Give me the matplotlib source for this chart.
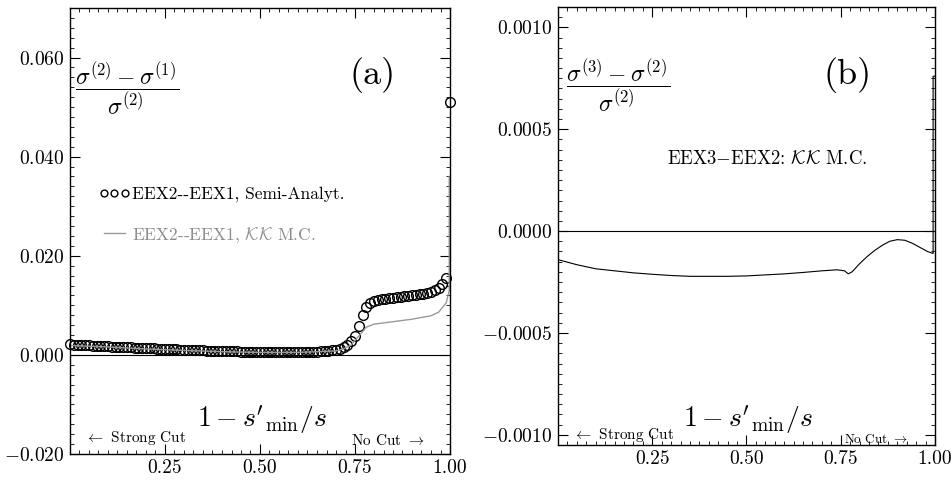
import numpy as np
import matplotlib
matplotlib.use('Agg')
import matplotlib.pyplot as plt
from matplotlib.ticker import AutoMinorLocator

plt.rcParams['font.family'] = 'serif'
plt.rcParams['font.serif'] = ['cmr10']
plt.rcParams['mathtext.fontset'] = 'cm'
plt.rcParams['axes.unicode_minus'] = False
plt.rcParams['axes.formatter.use_mathtext'] = True

# panel (a): semi-analytical EEX2-EEX1 (circles), x = 0.00 ... 1.00 step 0.01
semi_x = np.arange(101) / 100
semi_y = np.array([
    2.1, 2.05, 2.0, 1.95, 1.9, 1.9, 1.85, 1.8, 1.8, 1.75,
    1.7, 1.65, 1.65, 1.6, 1.55, 1.5, 1.5, 1.45, 1.4, 1.4,
    1.35, 1.3, 1.3, 1.25, 1.2, 1.2, 1.15, 1.1, 1.1, 1.05,
    1.0, 1.0, 0.95, 0.95, 0.9, 0.9, 0.85, 0.85, 0.8, 0.8,
    0.75, 0.75, 0.7, 0.7, 0.7, 0.65, 0.65, 0.65, 0.6, 0.6,
    0.6, 0.6, 0.55, 0.55, 0.55, 0.55, 0.55, 0.55, 0.55, 0.55,
    0.6, 0.6, 0.6, 0.6, 0.65, 0.65, 0.7, 0.75, 0.8, 0.9,
    1.0, 1.2, 1.5, 2.0, 2.8, 3.8, 5.8, 8.0, 9.6, 10.4,
    10.8, 11.0, 11.2, 11.3, 11.4, 11.5, 11.6, 11.7, 11.8, 11.9,
    12.0, 12.1, 12.2, 12.3, 12.5, 12.7, 13.0, 13.5, 14.3, 15.5,
    51.0]) * 1e-3

# panel (a): KK M.C. EEX2-EEX1 (gray line)
mc_x = [0.0, 0.1, 0.2, 0.3, 0.4, 0.5, 0.6, 0.7, 0.72, 0.74, 0.76, 0.78,
        0.8, 0.85, 0.9, 0.95, 0.97, 0.99, 0.998, 0.998]
mc_y = np.array([1.9, 1.6, 1.2, 0.9, 0.65, 0.5, 0.5, 0.8, 1.2, 2.0, 3.8, 5.6,
                 6.2, 6.7, 7.2, 7.9, 8.6, 10.5, 13.0, 36.0]) * 1e-3

# panel (b): KK M.C. EEX3-EEX2
b_x = [0.0, 0.05, 0.1, 0.15, 0.2, 0.25, 0.3, 0.35, 0.4, 0.45, 0.5, 0.55,
       0.6, 0.65, 0.7, 0.74, 0.76, 0.77, 0.78, 0.8, 0.82, 0.84, 0.86, 0.88,
       0.9, 0.92, 0.94, 0.96, 0.98, 0.995, 0.995, 1.0]
b_y = np.array([-1.4, -1.65, -1.85, -1.95, -2.05, -2.12, -2.18, -2.22, -2.22,
                -2.22, -2.2, -2.15, -2.1, -2.03, -1.95, -1.9, -1.95, -2.1, -2.0,
                -1.6, -1.25, -0.95, -0.7, -0.5, -0.42, -0.45, -0.6, -0.8, -1.0,
                -1.1, 7.6, 7.6]) * 1e-4

x_ticks = [0.25, 0.50, 0.75, 1.00]
x_labels = ['0.25', '0.50', '0.75', '1.00']
a_yticks = [-0.02, 0.0, 0.02, 0.04, 0.06]
a_ylabels = ['$-0.020$', '$0.000$', '$0.020$', '$0.040$', '$0.060$']
b_yticks = [-0.001, -0.0005, 0.0, 0.0005, 0.001]
b_ylabels = ['$-0.0010$', '$-0.0005$', '$0.0000$', '$0.0005$', '$0.0010$']


def style_axes(ax, yticks, ylabels):
    ax.set_xlim(0, 1)
    ax.set_xticks(x_ticks)
    ax.set_xticklabels(x_labels, fontsize=14)
    ax.set_yticks(yticks)
    ax.set_yticklabels(ylabels, fontsize=14)
    ax.xaxis.set_minor_locator(AutoMinorLocator(10))
    ax.yaxis.set_minor_locator(AutoMinorLocator(10))
    ax.tick_params(which='both', direction='in', top=True, right=True)
    ax.tick_params(which='major', length=7, width=0.8, pad=4)
    ax.tick_params(which='minor', length=3, width=0.6)
    for s in ax.spines.values():
        s.set_linewidth(1.0)
    ax.axhline(0, color='black', lw=0.8)


fig = plt.figure(figsize=(9.53, 4.82), dpi=100)

# ---- panel (a)
ax1 = fig.add_axes([70 / 953, 28 / 482, 380 / 953, 446 / 482])
ax1.plot(semi_x, semi_y, 'o', mfc='none', mec='black', ms=7, mew=1.0,
         clip_on=False, label='EEX2--EEX1, Semi-Analyt.')
ax1.plot(mc_x, mc_y, '-', color='0.6', lw=1.0, label=r'EEX2--EEX1, $\mathcal{KK}$ M.C.')
ax1.set_ylim(-0.02, 0.07)
style_axes(ax1, a_yticks, a_ylabels)
leg = ax1.legend(loc='upper left', bbox_to_anchor=(0.075, 0.6), frameon=False,
                 fontsize=12.5, numpoints=3, handlelength=1.8, handletextpad=0.15,
                 labelspacing=1.3, borderpad=0, borderaxespad=0, markerscale=0.7)
leg.get_texts()[1].set_color('0.55')

ax1.text(0.15, 0.82, r'$\dfrac{\sigma^{(2)}-\sigma^{(1)}}{\sigma^{(2)}}$',
         transform=ax1.transAxes, fontsize=17, ha='center', va='center')
ax1.text(0.795, 0.85, '(a)', transform=ax1.transAxes, fontsize=26,
         ha='center', va='center')
ax1.text(0.505, 0.075, r"$1-s'_{\rm min}/s$", transform=ax1.transAxes,
         fontsize=20, ha='center', va='center')
ax1.text(0.04, 0.036, r'$\leftarrow$ Strong Cut', transform=ax1.transAxes,
         fontsize=11, ha='left', va='center')
ax1.text(0.934, 0.031, r'No Cut $\rightarrow$', transform=ax1.transAxes,
         fontsize=11, ha='right', va='center')

# ---- panel (b)
ax2 = fig.add_axes([558 / 953, 37 / 482, 377 / 953, 438 / 482])
ax2.plot(b_x, b_y, '-', color='black', lw=0.8)
ax2.set_ylim(-0.00105, 0.0011)
style_axes(ax2, b_yticks, b_ylabels)

ax2.text(0.16, 0.82, r'$\dfrac{\sigma^{(3)}-\sigma^{(2)}}{\sigma^{(2)}}$',
         transform=ax2.transAxes, fontsize=17, ha='center', va='center')
ax2.text(0.767, 0.845, '(b)', transform=ax2.transAxes, fontsize=26,
         ha='center', va='center')
ax2.text(0.555, 0.655, r'EEX3$-$EEX2: $\mathcal{KK}$ M.C.', transform=ax2.transAxes,
         fontsize=13.5, ha='center', va='center')
ax2.text(0.504, 0.055, r"$1-s'_{\rm min}/s$", transform=ax2.transAxes,
         fontsize=20, ha='center', va='center')
ax2.text(0.04, 0.022, r'$\leftarrow$ Strong Cut', transform=ax2.transAxes,
         fontsize=11, ha='left', va='center')
ax2.text(0.928, 0.012, r'No Cut $\rightarrow$', transform=ax2.transAxes,
         fontsize=9.5, ha='right', va='center')

fig.savefig('out.png', dpi=100)
